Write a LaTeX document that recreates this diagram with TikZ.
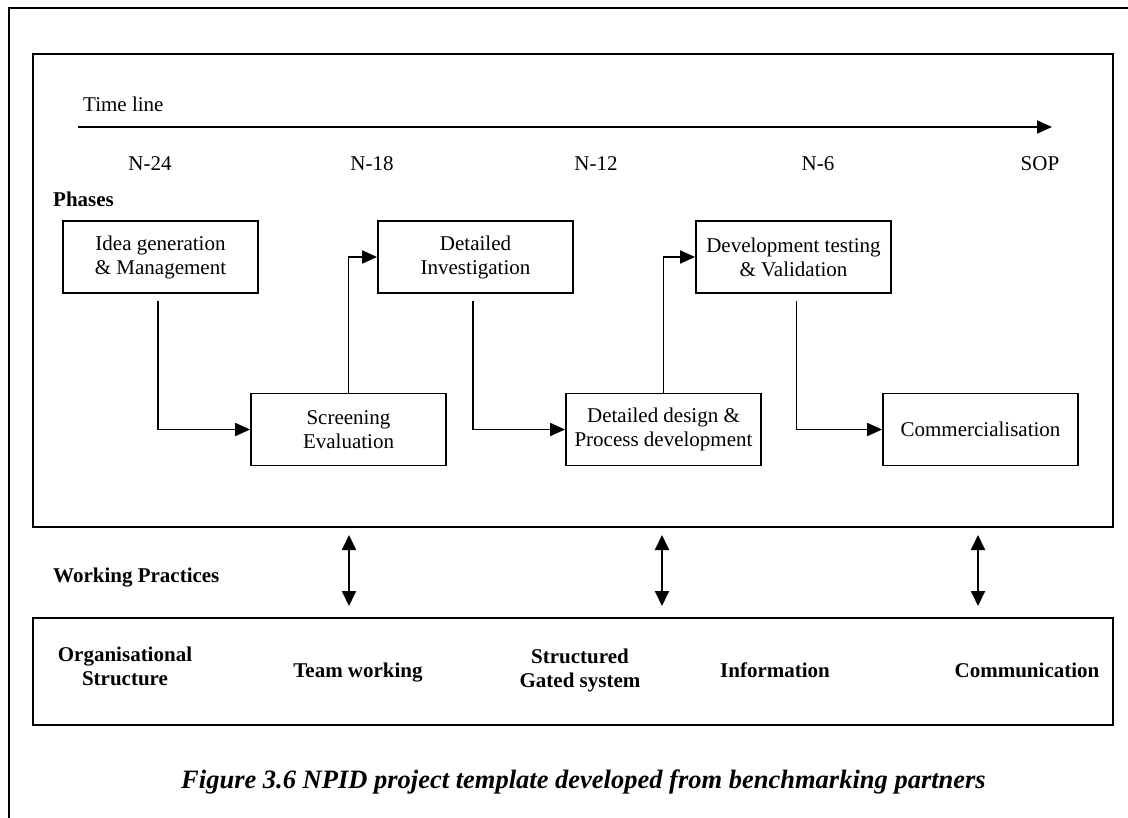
\documentclass[tikz,border=0pt]{standalone}
\usepackage{fontspec}
\setmainfont{Liberation Serif}
\usetikzlibrary{arrows.meta}

\begin{document}
\begin{tikzpicture}[x=1pt,y=-1pt,
  frameline/.style={line width=2.4pt},
  panel/.style={draw, line width=2.2pt, inner sep=0pt},
  phase/.style={draw, line width=1.8pt, minimum width=195pt, minimum height=72pt,
    inner sep=0pt, align=center, font=\fontsize{21}{24}\selectfont},
  conn/.style={line width=1.8pt, -{Triangle[length=15pt,width=13pt]}},
  dbl/.style={line width=1.8pt, {Triangle[length=15pt,width=14pt]}-{Triangle[length=15pt,width=14pt]}},
  lbl/.style={inner sep=0pt, font=\fontsize{21}{24}\selectfont},
  bold/.style={inner sep=0pt, align=center, font=\fontsize{21}{24}\selectfont\bfseries},
  caption/.style={inner sep=0pt, font=\fontsize{26.5}{30}\selectfont\bfseries\itshape}
]
\useasboundingbox (0,0) rectangle (1128,818);

% outer page frame (top and left rules only)
\coordinate (ftl) at (9,8);
\coordinate (ftr) at (1128,8);
\coordinate (fbl) at (9,818);
\draw[frameline] (ftr) -- (ftl) -- (fbl);

% panels
\node[panel, minimum width=1080pt, minimum height=473pt] (mainbox) at (573,290.5) {};
\node[panel, minimum width=1080pt, minimum height=107pt] (practices) at (573,671.5) {};

% time line
\node[lbl, anchor=west] (tltitle) at (83,104.5) {Time line};
\coordinate (tlstart) at (78,127);
\coordinate (tlend) at (1052,127);
\draw[conn] (tlstart) -- (tlend);
\node[lbl] (m24) at (150,163.5) {N-24};
\node[lbl] (m18) at (372,163.5) {N-18};
\node[lbl] (m12) at (596,163.5) {N-12};
\node[lbl] (m6)  at (818,163.5) {N-6};
\node[lbl] (sop) at (1040,163.5) {SOP};

% phases
\node[bold, anchor=west] (phasestitle) at (53,199.5) {Phases};
\node[phase] (idea)   at (160.5,257)   {Idea generation\\ \& Management};
\node[phase] (screen) at (348.5,429.5) {Screening\\Evaluation};
\node[phase] (detinv) at (475.5,257)   {Detailed\\Investigation};
\node[phase] (detdes) at (663.5,429.5) {Detailed design \&\\Process development};
\node[phase] (devtest) at (793.5,257)  {Development testing\\ \& Validation};
\node[phase] (comm)   at (980.5,429.5) {Commercialisation};

\coordinate (idealeg)   at ([xshift=-2.5pt,yshift=-7pt]idea.south);
\coordinate (detinvleg) at ([xshift=-2.5pt,yshift=-7pt]detinv.south);
\coordinate (devtestleg) at ([xshift=3pt,yshift=-7pt]devtest.south);
\draw[conn] (idealeg) |- (screen.west);
\draw[conn] (screen.north) |- (detinv.west);
\draw[conn] (detinvleg) |- (detdes.west);
\draw[conn] (detdes.north) |- (devtest.west);
\draw[conn] (devtestleg) |- (comm.west);

% links between phases and working practices
\coordinate (la) at (349,535);  \coordinate (lb) at (349,606);
\coordinate (ma) at (662,535);  \coordinate (mb) at (662,606);
\coordinate (ra) at (978,535);  \coordinate (rb) at (978,606);
\draw[dbl] (la) -- (lb);
\draw[dbl] (ma) -- (mb);
\draw[dbl] (ra) -- (rb);

\node[bold, anchor=base west] (wptitle) at (53,582) {Working Practices};

% working practices
\node[bold] (org)    at (125,666.7) {Organisational\\Structure};
\node[bold, anchor=base] (team) at (358,677) {Team working};
\node[bold] (gated)  at (580,670) {Structured\\Gated system};
\node[bold, anchor=base] (info) at (775,677) {Information};
\node[bold, anchor=base] (commun) at (1027,677) {Communication};

% caption
\node[caption, anchor=base] (figcap) at (583.5,788) {Figure 3.6 NPID project template developed from benchmarking partners};
\end{tikzpicture}
\end{document}
